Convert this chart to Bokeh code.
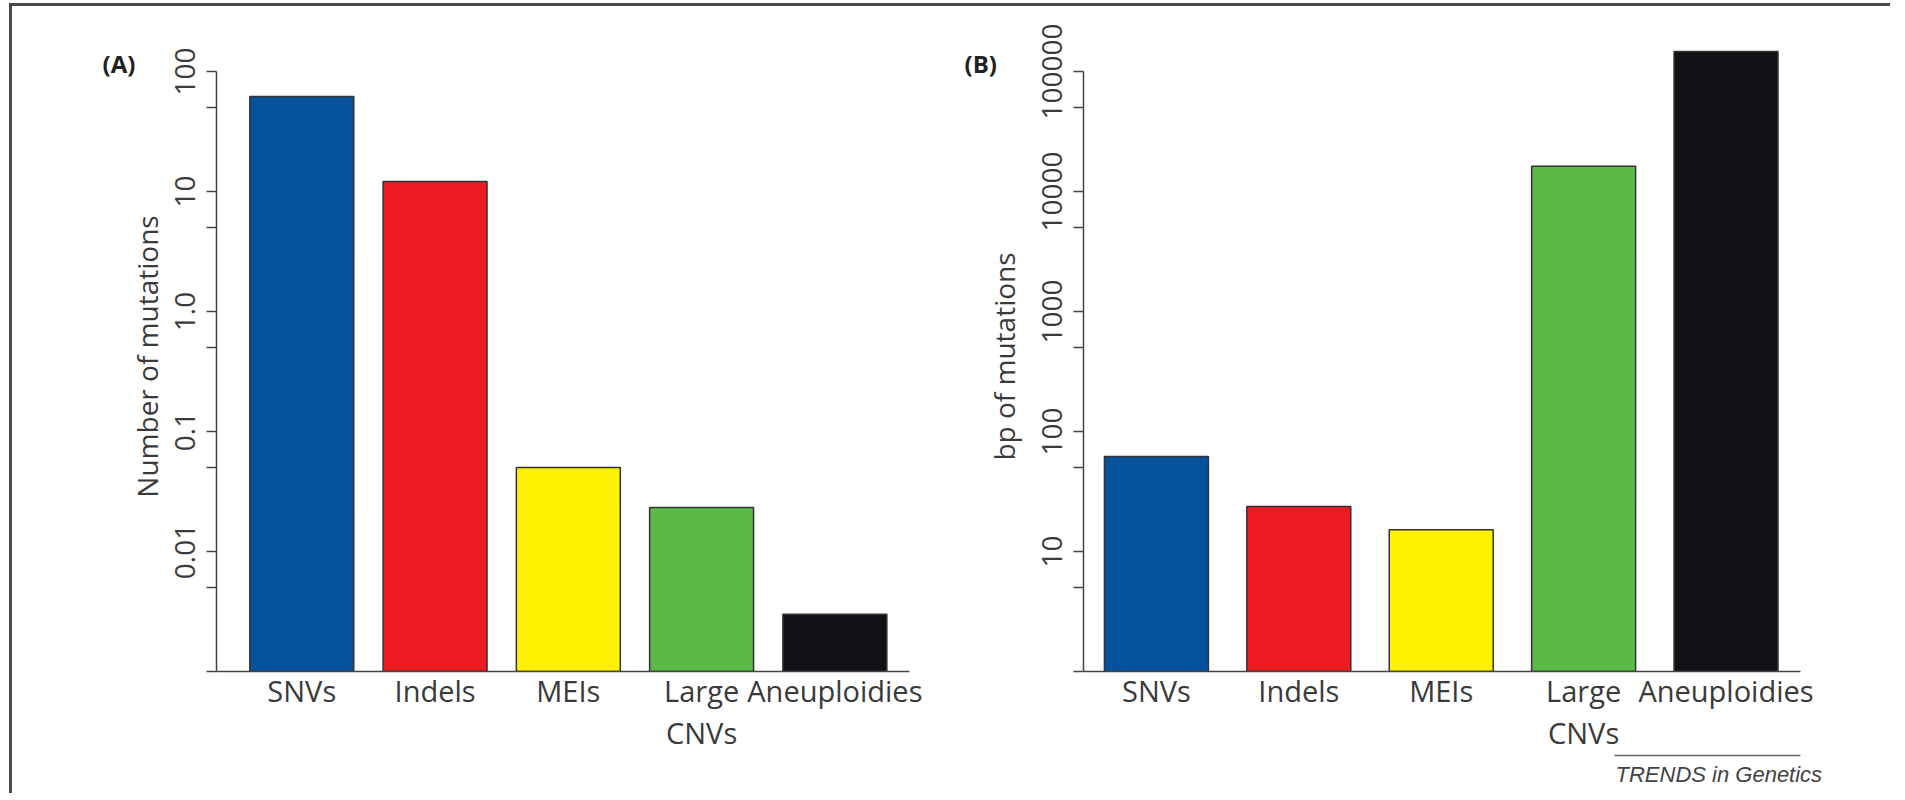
from bokeh.plotting import figure
from bokeh.layouts import row
from bokeh.models import FixedTicker, LinearAxis, Range1d, Title
from bokeh.embed import file_html
from bokeh.resources import INLINE

# ---------------- data ----------------
categories = ["SNVs", "Indels", "MEIs", "Large\nCNVs", "Aneuploidies"]
positions = [1, 2, 3, 4, 5]
bar_colors = ["#04529E", "#ED1C24", "#FFF200", "#5BB947", "#0F1114"]

number_of_mutations = [62, 12.1, 0.050, 0.0233, 0.0030]
bp_of_mutations = [62, 23.7, 15.2, 16200, 147000]

left_ticks = [0.001, 0.005, 0.01, 0.05, 0.1, 0.5, 1, 5, 10, 50, 100]
left_tick_labels = ["", "", "0.01", "", "0.1", "", "1.0", "", "10", "", "100"]
right_ticks = [1, 5, 10, 50, 100, 500, 1000, 5000, 10000, 50000, 100000]
right_tick_labels = ["", "", "10", "", "100", "", "1000", "", "10000", "", "100000"]

TXT = "#3a3a3a"
FONT = "Open Sans"


def style(p, ticks, tick_labels, ylabel, bounds, label_standoff):
    p.xgrid.grid_line_color = None
    p.ygrid.grid_line_color = None
    p.outline_line_color = None
    p.background_fill_color = "white"
    p.border_fill_color = "white"
    # x axis
    xa = p.xaxis[0]
    xa.ticker = FixedTicker(ticks=positions)
    xa.major_label_overrides = {k: v for k, v in zip(positions, categories)}
    xa.major_tick_line_color = None
    xa.minor_tick_line_color = None
    xa.axis_line_color = "#444444"
    xa.axis_line_width = 1.5
    xa.major_label_text_font = FONT
    xa.major_label_text_font_size = "29px"
    xa.major_label_text_color = TXT
    xa.major_label_text_line_height = 1.1
    xa.major_label_standoff = -7
    # y axis
    ya = p.yaxis[0]
    ya.ticker = FixedTicker(ticks=ticks)
    ya.major_label_overrides = {k: v for k, v in zip(ticks, tick_labels)}
    ya.bounds = bounds
    ya.minor_tick_line_color = None
    ya.major_tick_out = 10
    ya.major_tick_in = 0
    ya.major_tick_line_color = "#444444"
    ya.major_tick_line_width = 1.5
    ya.axis_line_color = "#444444"
    ya.axis_line_width = 1.5
    ya.major_label_orientation = "vertical"
    ya.major_label_text_font = FONT
    ya.major_label_text_font_size = "28px"
    ya.major_label_text_color = TXT
    ya.major_label_standoff = 12
    ya.axis_label = ylabel
    ya.axis_label_text_font = FONT
    ya.axis_label_text_font_size = "28px"
    ya.axis_label_text_font_style = "normal"
    ya.axis_label_text_color = TXT
    ya.axis_label_standoff = label_standoff


def panel_title(text, offset, standoff):
    return Title(text=text, align="left", offset=offset, standoff=standoff,
                 vertical_align="bottom", text_font=FONT, text_font_size="24px",
                 text_font_style="bold", text_color="#222222")


# ---------------- panel A ----------------
p1 = figure(
    y_axis_type="log",
    x_range=Range1d(0.36, 5.56),
    y_range=Range1d(0.001, 10 ** 2.25),
    frame_width=693, frame_height=630,
    min_border_left=204, min_border_top=35, min_border_bottom=122, min_border_right=31,
    output_backend="svg", toolbar_location=None,
)
p1.vbar(x=positions, top=number_of_mutations, bottom=0.001, width=0.78,
        fill_color=bar_colors, line_color="#333333", line_width=1.5)
style(p1, left_ticks, left_tick_labels, "Number of mutations", (0.001, 100), 6)
p1.add_layout(panel_title("(A)", -114, -76), "above")

# ---------------- panel B ----------------
p2 = figure(
    y_axis_type="log",
    x_range=Range1d(0.488, 5.523),
    y_range=Range1d(1, 10 ** 5.25),
    frame_width=717, frame_height=630,
    min_border_left=143, min_border_top=35, min_border_bottom=122, min_border_right=90,
    output_backend="svg", toolbar_location=None,
)
p2.vbar(x=positions, top=bp_of_mutations, bottom=1, width=0.73,
        fill_color=bar_colors, line_color="#333333", line_width=1.5)
style(p2, right_ticks, right_tick_labels, "bp of mutations", (1, 100000), 16)
p2.add_layout(panel_title("(B)", -119, -76), "above")

# overline of the journal mark: a tick-less axis line stacked under the x axis
rule = LinearAxis(ticker=FixedTicker(ticks=[5]), bounds=(4.215, 5.695))
rule.major_label_overrides = {5: ""}
rule.major_tick_line_color = None
rule.minor_tick_line_color = None
rule.major_label_text_font_size = "1px"
rule.major_label_standoff = 0
rule.axis_line_color = "#666666"
rule.axis_line_width = 1.5
p2.add_layout(rule, "below")

p2.add_layout(Title(text="TRENDS in Genetics", align="left", offset=532, standoff=0,
                    vertical_align="top",
                    text_font="Liberation Sans", text_font_size="22px",
                    text_font_style="italic", text_color="#444444"), "below")

layout = row(p1, p2, styles={"border-top": "3px solid #4a4a4a",
                             "border-left": "3px solid #4a4a4a",
                             "margin-top": "3px", "margin-left": "9px"})

open("out.html", "w").write(file_html(layout, INLINE))
